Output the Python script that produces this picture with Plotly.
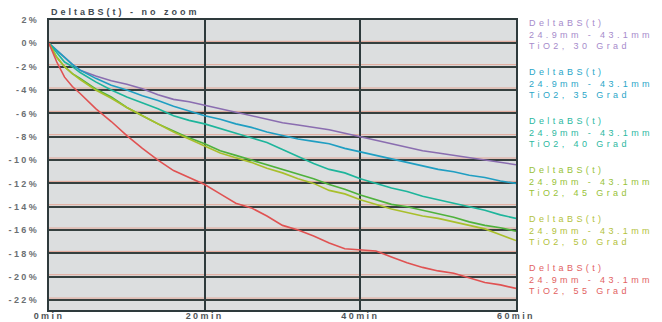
import plotly.graph_objects as go

# Time axis (minutes) and DeltaBS(t) readings in percent for each temperature
minutes = [0, 1, 2, 3, 4, 6, 8, 10, 12, 14, 16, 18, 20, 22, 24, 26, 28, 30,
           32, 34, 36, 38, 40, 42, 44, 46, 48, 50, 52, 54, 56, 58, 60]

delta_30 = [0, -0.6, -1.2, -1.8, -2.3, -2.8, -3.2, -3.5, -3.9, -4.4, -4.8, -5.0, -5.3,
            -5.6, -5.9, -6.2, -6.5, -6.8, -7.0, -7.2, -7.4, -7.7, -8.0,
            -8.3, -8.6, -8.9, -9.2, -9.4, -9.6, -9.8, -10.0, -10.2, -10.4]
delta_35 = [0, -0.6, -1.2, -1.8, -2.3, -3.0, -3.6, -4.0, -4.5, -4.9, -5.4, -5.8, -6.2,
            -6.5, -6.9, -7.2, -7.6, -7.9, -8.2, -8.4, -8.6, -9.0, -9.3,
            -9.6, -9.9, -10.2, -10.5, -10.8, -11.0, -11.3, -11.5, -11.8, -12.0]
delta_40 = [0, -0.8, -1.6, -2.0, -2.5, -3.3, -4.0, -4.6, -5.1, -5.6, -6.2, -6.6, -6.9,
            -7.3, -7.7, -8.1, -8.5, -9.1, -9.7, -10.3, -10.8, -11.1, -11.6,
            -12.0, -12.4, -12.7, -13.1, -13.4, -13.7, -14.0, -14.3, -14.7, -15.0]
delta_45 = [0, -1.2, -2.0, -2.6, -3.0, -3.9, -4.6, -5.5, -6.2, -6.9, -7.5, -8.1, -8.6,
            -9.2, -9.6, -10.0, -10.4, -10.8, -11.2, -11.6, -12.1, -12.5, -13.0,
            -13.4, -13.8, -14.0, -14.3, -14.6, -14.9, -15.3, -15.6, -15.8, -16.1]
delta_50 = [0, -1.2, -2.0, -2.6, -3.1, -4.0, -4.7, -5.5, -6.2, -6.9, -7.6, -8.2, -8.8,
            -9.4, -9.8, -10.2, -10.7, -11.1, -11.6, -12.0, -12.6, -12.9, -13.4,
            -13.8, -14.2, -14.5, -14.8, -15.0, -15.3, -15.6, -15.9, -16.4, -16.9]
delta_55 = [0, -1.6, -2.9, -3.7, -4.3, -5.6, -6.7, -7.9, -9.0, -10.0, -10.9, -11.5, -12.1,
            -12.9, -13.7, -14.1, -14.8, -15.6, -16.0, -16.5, -17.1, -17.6, -17.7,
            -17.8, -18.3, -18.8, -19.2, -19.5, -19.7, -20.1, -20.5, -20.7, -21.0]

temperatures = ["30", "35", "40", "45", "50", "55"]
series = [delta_30, delta_35, delta_40, delta_45, delta_50, delta_55]
line_colors = ["#8a6db0", "#1f9ec2", "#1db59b", "#4fb23c", "#a9bf2b", "#e05252"]
text_colors = ["#a68bcb", "#2aa6c8", "#2cb89f", "#98c238", "#b3c23c", "#e26262"]

y_ticks = [2, 0, -2, -4, -6, -8, -10, -12, -14, -16, -18, -20, -22]
x_ticks = [0, 20, 40, 60]

LS = "letter-spacing:2.4px"


def spaced(text, spacing=LS):
    return f"<span style='{spacing}'>{text}</span>"


fig = go.Figure()
for temp, vals, col in zip(temperatures, series, line_colors):
    fig.add_trace(go.Scatter(
        x=minutes, y=vals, mode="lines", name=f"TiO2, {temp} Grad",
        line=dict(color=col, width=1.6), showlegend=False,
    ))

# thin reddish fringe just above each horizontal grid line
for v in y_ticks[1:]:
    fig.add_shape(type="line", xref="paper", x0=0, x1=1, yref="y",
                  ysizemode="pixel", yanchor=v, y0=2, y1=2,
                  line=dict(color="#e3a494", width=1), layer="between")

# multi-line series labels on the right, in each series' colour
for i, (temp, col) in enumerate(zip(temperatures, text_colors)):
    label = "DeltaBS(t)<br>24.9mm - 43.1mm<br>TiO2, " + temp + " Grad"
    fig.add_annotation(
        xref="paper", yref="paper", x=1.024, y=(310 - (34 + 49 * i)) / 290,
        xanchor="left", yanchor="middle", align="left", showarrow=False,
        text=spaced(label, "letter-spacing:3.4px"),
        font=dict(family="Liberation Sans, Arial", size=9, color=col),
    )

fig.add_annotation(
    xref="paper", yref="paper", x=0, y=(310 - 12) / 290,
    xanchor="left", yanchor="middle", showarrow=False,
    text="<b>" + spaced("DeltaBS(t) - no zoom", "letter-spacing:3px") + "</b>",
    font=dict(family="Liberation Sans, Arial", size=9, color="#424a52"),
)

fig.update_layout(
    width=662, height=322,
    margin=dict(l=49, r=146, t=20, b=12),
    paper_bgcolor="white", plot_bgcolor="#dcdedf",
    font=dict(family="Liberation Sans, Arial", size=9),
)
fig.update_xaxes(
    range=[0, 60], tickvals=x_ticks,
    ticktext=["<b>" + spaced(f"{v}min") + "</b>" for v in x_ticks],
    tickfont=dict(size=9, color="#505558"),
    showgrid=True, gridcolor="#2e3a3c", gridwidth=2,
    showline=True, linecolor="#2e3a3c", linewidth=2, mirror=True,
    zeroline=False, ticks="", ticklabelstandoff=-4, automargin=False,
)
fig.update_yaxes(
    range=[-22.85, 2.0], tickvals=y_ticks,
    ticktext=["<b>" + spaced(f"{v}%") + "</b>" for v in y_ticks],
    tickfont=dict(size=9, color="#6b6f72"),
    showgrid=True, gridcolor="#35403f", gridwidth=1.6,
    showline=True, linecolor="#2e3a3c", linewidth=2, mirror=True,
    zeroline=False, ticks="", ticklabelstandoff=6, automargin=False,
)

fig.write_html("out.html")
